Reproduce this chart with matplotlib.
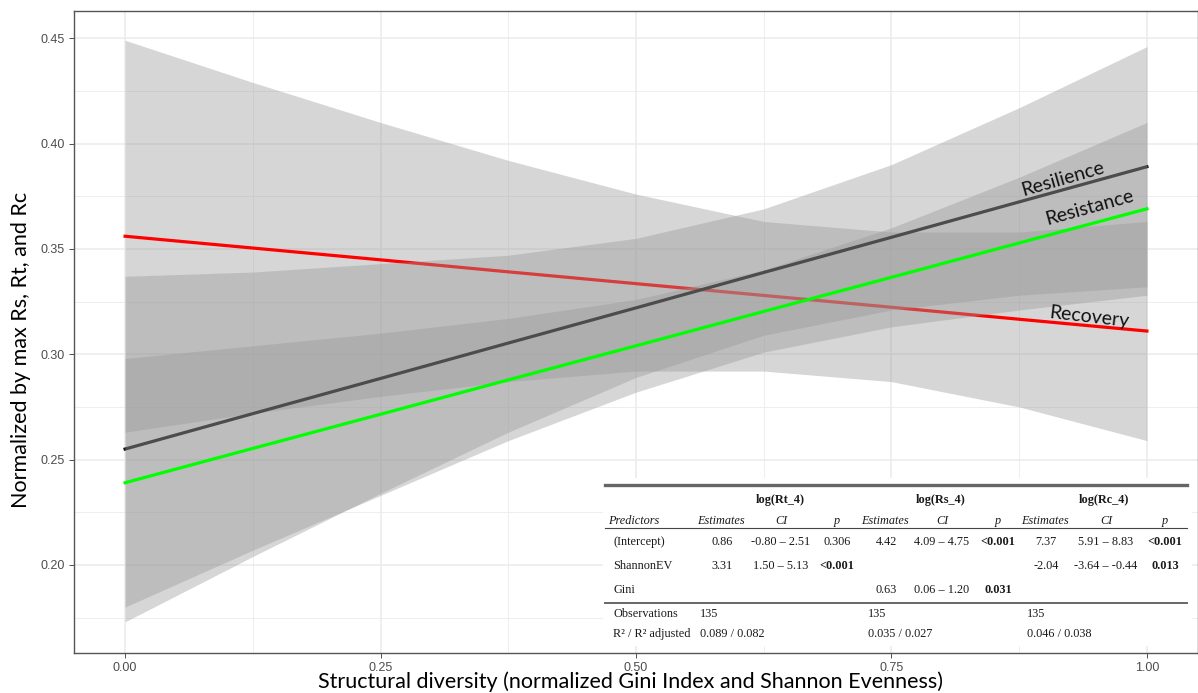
import matplotlib.pyplot as plt
from matplotlib.ticker import MultipleLocator, FormatStrFormatter
from matplotlib.patches import Rectangle
from matplotlib.lines import Line2D

W, H = 1198, 693

# Werte (x = normierte Strukturdiversität)
x_vals = [0.0, 0.125, 0.25, 0.375, 0.5, 0.625, 0.75, 0.875, 1.0]

recovery_fit = [0.356, 0.3504, 0.3448, 0.3391, 0.3335, 0.3279, 0.3223, 0.3166, 0.311]
recovery_low = [0.263, 0.272, 0.280, 0.287, 0.292, 0.292, 0.287, 0.275, 0.259]
recovery_high = [0.449, 0.429, 0.410, 0.392, 0.376, 0.363, 0.358, 0.358, 0.363]

resilience_fit = [0.255, 0.2718, 0.2885, 0.3053, 0.322, 0.3388, 0.3555, 0.3723, 0.389]
resilience_low = [0.173, 0.204, 0.234, 0.263, 0.289, 0.309, 0.321, 0.328, 0.332]
resilience_high = [0.337, 0.339, 0.343, 0.347, 0.355, 0.369, 0.390, 0.417, 0.446]

resistance_fit = [0.239, 0.2553, 0.2715, 0.2878, 0.304, 0.3203, 0.3365, 0.3528, 0.369]
resistance_low = [0.180, 0.207, 0.233, 0.259, 0.282, 0.301, 0.313, 0.321, 0.328]
resistance_high = [0.298, 0.304, 0.310, 0.317, 0.326, 0.340, 0.360, 0.384, 0.410]

# Regressionstabelle
models = ["log(Rt_4)", "log(Rs_4)", "log(Rc_4)"]
predictors = ["(Intercept)", "ShannonEV", "Gini"]
estimates = [["0.86", "4.42", "7.37"], ["3.31", "", "-2.04"], ["", "0.63", ""]]
conf_int = [["-0.80 \u2013 2.51", "4.09 \u2013 4.75", "5.91 \u2013 8.83"],
            ["1.50 \u2013 5.13", "", "-3.64 \u2013 -0.44"],
            ["", "0.06 \u2013 1.20", ""]]
p_values = [["0.306", "<0.001", "<0.001"], ["<0.001", "", "0.013"], ["", "0.031", ""]]
observations = ["135", "135", "135"]
r_squared = ["0.089 / 0.082", "0.035 / 0.027", "0.046 / 0.038"]

fig = plt.figure(figsize=(W / 100, H / 100), dpi=100)
ax = fig.add_axes([74 / W, 1 - 653 / H, (W - 74) / W, (653 - 11) / H])

band = dict(color="#999999", alpha=0.4, linewidth=0)
# Reihenfolge wie in ggplot: Band, dann Linie, je Modell
ax.fill_between(x_vals, recovery_low, recovery_high, zorder=2, **band)
ax.plot(x_vals, recovery_fit, color="#ff0000", lw=2.3, zorder=3)
ax.fill_between(x_vals, resilience_low, resilience_high, zorder=4, **band)
ax.plot(x_vals, resilience_fit, color="#1a1a1a", lw=2.3, zorder=5)
ax.fill_between(x_vals, resistance_low, resistance_high, zorder=6, **band)
ax.plot(x_vals, resistance_fit, color="#00ff00", lw=2.3, zorder=7)

lab = dict(fontsize=14, family="Lato", ha="center", va="center",
           rotation_mode="anchor", color="#111111", zorder=8)
ax.text(0.918, 0.383, "Resilience", rotation=16, **lab)
ax.text(0.944, 0.3695, "Resistance", rotation=15.5, **lab)
ax.text(0.943, 0.3177, "Recovery", rotation=-6.5, **lab)

ax.set_xlim(-0.05, 1.05)
ax.set_ylim(0.1582, 0.4629)
ax.xaxis.set_major_locator(MultipleLocator(0.25))
ax.xaxis.set_minor_locator(MultipleLocator(0.125))
ax.yaxis.set_major_locator(MultipleLocator(0.05))
ax.yaxis.set_minor_locator(MultipleLocator(0.025))
ax.xaxis.set_major_formatter(FormatStrFormatter("%.2f"))
ax.yaxis.set_major_formatter(FormatStrFormatter("%.2f"))
ax.grid(which="major", color="#ebebeb", lw=1.1, zorder=0)
ax.grid(which="minor", color="#ebebeb", lw=0.6, zorder=0)
ax.set_axisbelow(True)
ax.tick_params(which="major", length=3.5, width=0.6, color="#333333",
               labelsize=9, labelcolor="#4d4d4d", pad=3)
ax.tick_params(which="minor", length=0)
for lbl in ax.get_xticklabels() + ax.get_yticklabels():
    lbl.set_family("Liberation Sans")
for side in ["left", "bottom", "top", "right"]:
    ax.spines[side].set_color("#555555")
    ax.spines[side].set_linewidth(1.0)

fig.text(630 / W, 1 - 682 / H, "Structural diversity (normalized Gini Index and Shannon Evenness)",
         ha="center", va="center", fontsize=15.5, family="Lato")
fig.text(21 / W, 1 - 350 / H, "Normalized by max Rs, Rt, and Rc", rotation=90,
         ha="center", va="center", fontsize=15.5, family="Lato")


# Tabelle (Koordinaten in Pixeln)
def px(x, y):
    return x / W, 1 - y / H


def ttext(x, y, s, ha="center", **kw):
    fig.text(*px(x, y), s, ha=ha, va="center", fontsize=8.8,
             family="Liberation Serif", color="#1a1a1a", zorder=12, **kw)


def hline(y, lw, color):
    x0, y0 = px(605, y)
    x1, _ = px(1187, y)
    fig.add_artist(Line2D([x0, x1], [y0, y0], transform=fig.transFigure,
                          color=color, lw=lw, zorder=11))


bx, by = px(603, 646)
fig.add_artist(Rectangle((bx, by), (1192 - 603) / W, (646 - 478) / H,
                         transform=fig.transFigure, facecolor="white",
                         edgecolor="none", zorder=10))
hline(485, 2.4, "#666666")
hline(528, 0.8, "#444444")
hline(603, 1.4, "#666666")

model_x = [780, 941, 1104]
est_x = [721, 885, 1045]
ci_x = [781, 942, 1106]
p_x = [837, 998, 1165]
val_x = [700, 868, 1027]

for i, m in enumerate(models):
    ttext(model_x[i], 500, m, weight="bold")
    ttext(est_x[i], 521, "Estimates", style="italic")
    ttext(ci_x[i], 521, "CI", style="italic")
    ttext(p_x[i], 521, "p", style="italic")
ttext(608, 521, "Predictors", ha="left", style="italic")

row_y = [542, 566, 590]
for r, name in enumerate(predictors):
    ttext(613, row_y[r], name, ha="left")
    for c in range(3):
        if estimates[r][c]:
            ttext(est_x[c] + 1, row_y[r], estimates[r][c])
            ttext(ci_x[c], row_y[r], conf_int[r][c])
            sig = p_values[r][c].startswith("<") or float(p_values[r][c]) < 0.05
            ttext(p_x[c], row_y[r], p_values[r][c], weight="bold" if sig else "normal")

ttext(613, 614, "Observations", ha="left")
ttext(613, 634, "R\u00b2 / R\u00b2 adjusted", ha="left")
for c in range(3):
    ttext(val_x[c], 614, observations[c], ha="left")
    ttext(val_x[c], 634, r_squared[c], ha="left")

fig.savefig("out.png", dpi=100)
